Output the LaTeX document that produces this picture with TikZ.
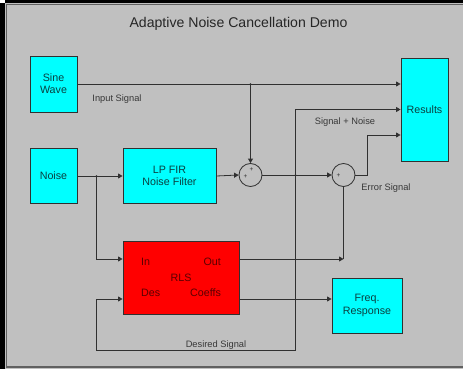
\documentclass[tikz,border=0pt]{standalone}
\usepackage{fontspec}
\setmainfont{Liberation Sans}
\usepackage{xcolor}
\usepackage{tikz}
\usetikzlibrary{positioning,arrows.meta,calc}
\definecolor{cBg}{HTML}{C0C0C0}
\definecolor{cFrame}{HTML}{606060}
\definecolor{cBlk}{HTML}{00FFFF}
\definecolor{cBlkT}{HTML}{0A4040}
\definecolor{cRls}{HTML}{FF0000}
\definecolor{cRlsT}{HTML}{5A0000}
\definecolor{cEdge}{HTML}{303030}
\definecolor{cLbl}{HTML}{383838}
\tikzset{
  base/.style    ={draw=cEdge, line width=0.9pt, align=center, inner sep=0pt,
                   font=\fontsize{10.7}{12.2}\selectfont},
  block/.style   ={base, fill=cBlk, text=cBlkT},
  rlsblock/.style={base, fill=cRls, text=cRlsT},
  sumnode/.style ={circle, draw=cEdge, line width=0.8pt, minimum size=23pt, inner sep=0pt},
  wire/.style    ={-{Triangle[length=4.5pt,width=5pt]}, line width=0.8pt, draw=cEdge},
  plain/.style   ={line width=0.8pt, draw=cEdge},
  jdot/.style    ={circle, fill=cEdge, minimum size=1.8pt, inner sep=0pt},
  ttl/.style     ={font=\fontsize{14.1}{15}\selectfont, text=black!85},
  lbl/.style     ={font=\fontsize{9.3}{10}\selectfont, text=cLbl},
  port/.style    ={font=\fontsize{10.7}{12}\selectfont, text=cRlsT},
  sgn/.style     ={font=\fontsize{6.5}{6.5}\selectfont, text=cEdge, inner sep=0pt},
}

\begin{document}
\begin{tikzpicture}[x=1pt, y=-1pt]

  % ---- frame ----
  \useasboundingbox (0,0) rectangle (463,369);
  \fill[black] (0,0) rectangle (463,369);
  \fill[white] (0,0) rectangle (5,3);
  \fill[cBg] (5,3) rectangle (463,369);
  \draw[cFrame, line width=1.2pt] (6.6,4.6) rectangle (470,367);

  % ---- title ----
  \node[ttl] (title) at (238.5,24) {Adaptive Noise Cancellation Demo};

  % ---- sources ----
  \node[block, minimum width=47pt, minimum height=56pt] (sine) at (53.5,84) {Sine\\Wave};
  \node[block, minimum width=47pt, minimum height=55pt] (noise) at (53.5,176) {Noise};

  % ---- filter + sums ----
  \node[block, minimum width=93pt, minimum height=55pt] (lpf) at (169.5,176) {LP FIR\\Noise Filter};
  \node[sumnode] (sum1) at (250.5,175) {};
  \node[sumnode] (sum2) at (343.5,175) {};
  \node[sgn] at ([xshift=1pt,yshift=5.5pt]sum1.center) {+};
  \node[sgn] at ([xshift=-5pt,yshift=-1.5pt]sum1.center) {+};
  \node[sgn] at ([xshift=-5pt,yshift=-1pt]sum2.center) {+};

  % ---- sinks ----
  \node[block, minimum width=47pt, minimum height=103pt] (res) at (424.5,109.5) {Results};
  \node[block, minimum width=70pt, minimum height=55pt] (freq) at (367,305.5) {Freq.\\Response};

  % ---- RLS adaptive filter ----
  \node[rlsblock, minimum width=116pt, minimum height=73pt] (rls) at (181,278) {};
  \node[port] (rlsname) at (rls.center) {RLS};
  \node[port, anchor=west] (pin) at ([xshift=15pt,yshift=16pt]rls.west) {In};
  \node[port, anchor=west] (pdes) at ([xshift=15pt,yshift=-15pt]rls.west) {Des};
  \node[port, anchor=east] (pout) at ([xshift=-15pt,yshift=16pt]rls.east) {Out};
  \node[port, anchor=east] (pcoef) at ([xshift=-15pt,yshift=-15pt]rls.east) {Coeffs};
  \coordinate (rlsIn)   at ([yshift=19pt]rls.west);
  \coordinate (rlsDes)  at ([yshift=-21pt]rls.west);
  \coordinate (rlsOut)  at ([yshift=19pt]rls.east);
  \coordinate (rlsCoef) at ([yshift=-21pt]rls.east);

  % ---- branch points ----
  \coordinate (jSine)  at (sine.east -| sum1.north);
  \coordinate (jNoise) at ([xshift=19pt]noise.east |- lpf.west);
  \coordinate (jSN)    at ([xshift=33pt]sum1.east);
  \path (rls.south) ++(0,35) coordinate (dLow);
  \coordinate (cOut) at (rlsOut -| sum2.south);

  % ---- edges ----
  \draw[wire] (sine.east) -- ([yshift=25.5pt]res.west);
  \draw[wire] (jSine) -- (sum1.north);
  \draw[wire] (noise.east |- lpf.west) -- (lpf.west);
  \draw[wire] (jNoise) |- (rlsIn);
  \draw[wire] (lpf.east) -- (sum1.west);
  \draw[wire] (sum1.east) -- (sum2.west);
  \draw[wire] (jSN) |- (res.west);
  \draw[wire] (jSN) |- (dLow -| jNoise) |- (rlsDes);
  \draw[wire] (sum2.east) -- ++(12,0) |- ([yshift=-25.5pt]res.west);
  \draw[wire] (rlsOut) -- (cOut);
  \draw[plain] (cOut) -- (sum2.south);
  \draw[wire] (rlsCoef) -- (rlsCoef -| freq.west);

  \node[jdot] at (jSine) {};
  \node[jdot] at (jNoise) {};
  \node[jdot] at (jSN) {};

  % ---- signal labels ----
  \node[lbl] (lInput) at (117,99) {Input Signal};
  \node[lbl] (lSN) at (345,122) {Signal + Noise};
  \node[lbl] (lErr) at (386,188) {Error Signal};
  \node[lbl] (lDes) at (216,345) {Desired Signal};

\end{tikzpicture}
\end{document}
